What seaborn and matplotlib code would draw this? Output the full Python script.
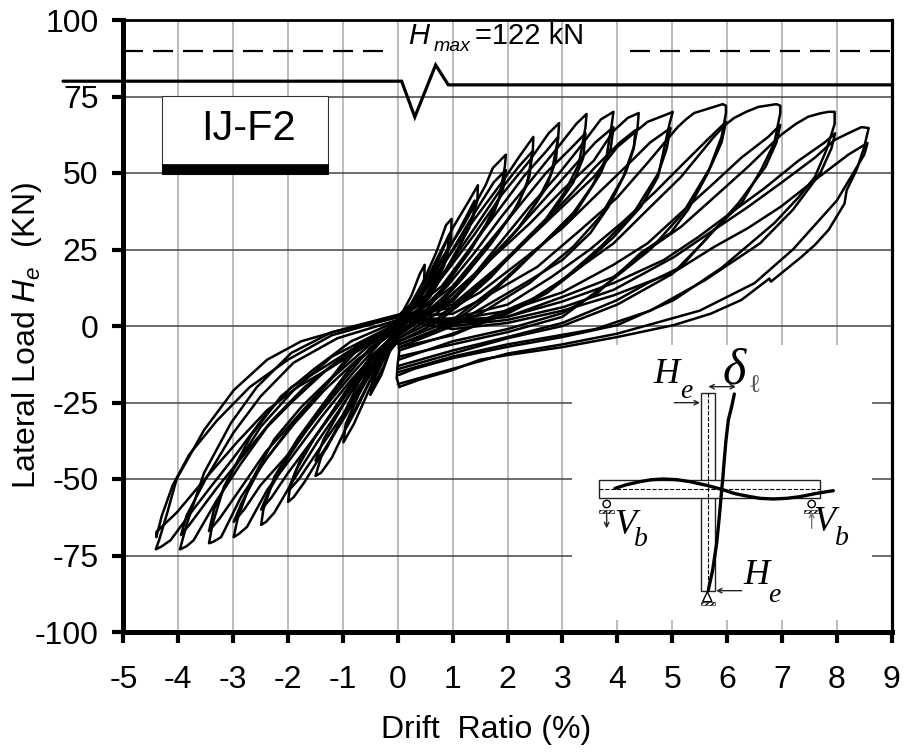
import pandas as pd
import matplotlib
matplotlib.use("Agg")
import matplotlib.pyplot as plt
from matplotlib.patches import Rectangle, Circle, Polygon
import seaborn as sns

# Tick labels
x_ticks = [-5, -4, -3, -2, -1, 0, 1, 2, 3, 4, 5, 6, 7, 8, 9]
y_ticks = [-100, -75, -50, -25, 0, 25, 50, 75, 100]

# Positive side, first cycles (reload branch, peak, unload branch)
p85_x = [0, 1.0, 2.0, 3.02, 3.93, 5.03, 5.76, 6.38, 6.98, 7.6, 7.96, 8.21, 8.45, 8.58, 8.5, 8.36, 8.18, 8.14, 7.85, 7.6, 7.35, 6.8, 6.77, 6.26, 5.7, 5.03, 4.0, 3.0, 2.0, 1.5, 1.0, 0.4, 0.03]
p85_y = [3, 0, 2, 6.2, 11.8, 22.5, 31.4, 38.9, 46.7, 55, 60.8, 63, 65, 64.7, 58.5, 51, 44.4, 40, 31.4, 26.5, 22.5, 14.5, 15.5, 8.5, 4, 0.3, -3.6, -6.9, -9.5, -11, -14.4, -17.5, -19.9]
p80_x = [0, 1.0, 2.0, 3.0, 3.93, 4.55, 5.16, 5.76, 6.38, 6.98, 7.25, 7.48, 7.7, 7.85, 7.96, 7.96, 7.81, 7.6, 7.3, 6.86, 5.9, 5.03, 4.0, 3.0, 2.0, 1.0, 0.3, 0.02]
p80_y = [3, 2, 3, 9.5, 16, 24.8, 32.4, 42, 52, 62.4, 66, 68.4, 69.5, 70, 70, 66, 57.5, 48.7, 42, 33.6, 19, 8.5, 0.3, -3.6, -6.8, -10.5, -14, -16]
p70_x = [0, 1.0, 1.5, 2.54, 3.33, 3.93, 4.55, 5.16, 5.76, 5.95, 6.13, 6.35, 6.57, 6.9, 6.97, 6.97, 6.86, 6.62, 6.26, 5.76, 5.16, 4.55, 4.0, 3.0, 2.0, 1.0, 0.02]
p70_y = [3, 1, 1.5, 9.5, 19.3, 27, 38, 48.7, 61.8, 65.5, 68, 70, 71.6, 72.5, 72, 69.6, 59.8, 51, 40, 31.4, 19.3, 14, 8.5, 1, -3.6, -8, -13]
p60_x = [0, 1.0, 1.5, 2.54, 3.33, 4.0, 4.55, 5.1, 5.25, 5.4, 5.76, 5.92, 5.98, 5.98, 5.9, 5.65, 5.29, 4.97, 4.43, 3.64, 3.0, 2.0, 1.0, 0.02]
p60_y = [3, 4, 8.5, 19.3, 31.4, 42, 53.3, 65, 67.5, 69.6, 71.6, 72.5, 72, 69.6, 61.8, 50, 38, 30.4, 23.9, 10.8, 4.2, -1, -5, -11]
p50_x = [0, 1.0, 1.5, 2.41, 3.0, 3.57, 4.0, 4.3, 4.55, 4.95, 5.01, 4.95, 4.74, 4.43, 3.93, 3.33, 2.72, 2.0, 1.0, 0.02]
p50_y = [3, 6, 13, 29, 39, 48.7, 58.5, 63, 66.7, 69.5, 70, 66, 48.7, 39, 29, 19.3, 10.8, 4, -2.5, -8]
p44_x = [0, 0.5, 1.0, 1.5, 2.41, 3.0, 3.57, 3.93, 4.19, 4.39, 4.37, 4.3, 4.11, 3.84, 3.51, 3.0, 2.41, 1.5, 1.0, 0.02]
p44_y = [3, 4, 8, 18.6, 33.6, 44.4, 54, 63.7, 68, 69.6, 65, 58.5, 48.7, 39, 30.4, 21.6, 15, 5.5, 0, -7]
p39_x = [0, 0.4, 0.9, 1.4, 1.9, 2.4, 2.9, 3.3, 3.7, 3.93, 3.9, 3.8, 3.55, 3.2, 2.7, 2.2, 1.6, 1.0, 0.02]
p39_y = [3, 4, 9, 17, 28, 39, 49, 58, 67.5, 70, 66, 55, 46, 37, 28, 19, 9, 1, -6]
p34_x = [0, 0.4, 0.9, 1.4, 1.9, 2.4, 2.9, 3.25, 3.44, 3.42, 3.3, 3.05, 2.7, 2.2, 1.7, 1.2, 0.7, 0.02]
p34_y = [3, 5, 13, 24, 36, 47, 58, 66, 69.3, 65, 53, 44, 35, 26, 16, 8, 1, -5]
p29_x = [0, 0.4, 0.9, 1.4, 1.9, 2.4, 2.75, 2.94, 2.92, 2.8, 2.55, 2.2, 1.7, 1.2, 0.7, 0.02]
p29_y = [3, 7, 18, 30, 43, 54, 63, 66.3, 61, 50, 41, 32, 22, 12, 4, -4]
p25_x = [0, 0.4, 0.9, 1.4, 1.9, 2.2, 2.47, 2.46, 2.35, 2.1, 1.7, 1.2, 0.7, 0.02]
p25_y = [3, 9, 22, 35, 47, 55, 61.8, 57, 46, 37, 27, 16, 6, -3]
p20_x = [0, 0.4, 0.8, 1.2, 1.6, 1.73, 1.97, 1.95, 1.85, 1.6, 1.2, 0.8, 0.4, 0.02]
p20_y = [3, 10, 22, 33, 46, 51.6, 56, 52, 42, 33, 22, 11, 3, -2]
p15_x = [0, 0.3, 0.6, 1.0, 1.3, 1.46, 1.45, 1.3, 1.0, 0.6, 0.3, 0.02]
p15_y = [3, 8, 18, 32, 41, 46, 41, 32, 22, 10, 3, -1]
p10_x = [0, 0.2, 0.45, 0.7, 0.88, 0.98, 0.97, 0.85, 0.6, 0.3, 0.02]
p10_y = [3, 6, 14, 24, 33, 35, 28, 20, 10, 3, 0]
p05_x = [0, 0.1, 0.25, 0.4, 0.49, 0.48, 0.35, 0.2, 0.02]
p05_y = [3, 5, 10, 17, 20, 15, 9, 4, 1]

# Positive side, second cycles
s85_x = [0, 1.0, 2.0, 3.0, 3.93, 5.03, 5.76, 6.38, 6.98, 7.6, 8.21, 8.56, 8.5, 8.3, 8.0, 7.2, 6.5, 5.5, 4.0, 3.0, 2.0, 1.0, 0.0]
s85_y = [2, -1, 1, 5, 10, 17.6, 25.8, 32, 39, 47.7, 56, 59.8, 56, 50, 41, 25, 14, 5, -2.5, -6, -9, -14, -19]
s80_x = [0, 1.0, 2.0, 3.0, 3.93, 4.85, 5.47, 6.07, 6.68, 7.3, 7.78, 7.97, 7.9, 7.7, 7.2, 6.6, 5.6, 4.6, 3.6, 2.0, 1.0, 0.02]
s80_y = [2, 1, 3, 8, 14, 21.6, 29, 37, 45, 54, 60, 63, 58, 50, 38, 27, 15, 5, -1, -6, -10, -15]
s70_x = [0, 1.0, 2.0, 3.0, 3.93, 4.55, 5.16, 5.76, 6.26, 6.75, 6.97, 6.9, 6.7, 6.2, 5.6, 5.0, 4.0, 3.0, 2.0, 1.0, 0.02]
s70_y = [2, 2, 5, 11, 20, 27, 37, 46.7, 55, 61.8, 65.7, 60, 52, 40, 28, 17, 7, 0, -4, -9, -14]
s60_x = [0, 1.0, 2.0, 2.8, 3.5, 4.1, 4.7, 5.2, 5.65, 5.98, 5.9, 5.7, 5.2, 4.6, 3.9, 3.0, 2.0, 1.0, 0.02]
s60_y = [2, 2.5, 7, 16, 25, 34, 44, 53, 61, 66.7, 60, 52, 37, 25, 15, 3, -2, -6, -10]
s50_x = [0, 0.8, 1.5, 2.3, 3.0, 3.6, 4.15, 4.6, 4.97, 4.9, 4.75, 4.3, 3.7, 3.0, 2.2, 1.0, 0.02]
s50_y = [2, 4, 11, 22, 32, 42.5, 52, 60, 64.7, 58, 50, 37, 26, 15, 6, -3, -7]
s44_x = [0, 1.0, 1.8, 2.5, 3.1, 3.6, 4.05, 4.33, 4.3, 4.15, 3.7, 3.2, 2.4, 1.5, 0.8, 0.02]
s44_y = [2, 7, 19, 31, 42, 52, 60, 64, 58, 50, 36, 26, 14, 4, -1, -6]
s39_x = [0, 0.8, 1.4, 2.1, 2.7, 3.2, 3.6, 3.93, 3.88, 3.7, 3.2, 2.6, 1.8, 1.0, 0.02]
s39_y = [2, 7, 17, 30, 42, 52, 60, 65, 58, 50, 36, 26, 13, 2, -5]
s34_x = [0, 0.4, 1.0, 1.6, 2.2, 2.7, 3.15, 3.42, 3.38, 3.2, 2.7, 2.1, 1.4, 0.7, 0.02]
s34_y = [2, 5, 13, 26, 39, 50, 58, 63, 55, 47, 34, 24, 12, 2, -4]
s29_x = [0, 0.8, 1.3, 1.8, 2.3, 2.7, 2.92, 2.88, 2.7, 2.2, 1.6, 1.0, 0.02]
s29_y = [2, 13, 25, 37, 49, 57, 61.8, 54, 45, 32, 20, 9, -3]
s25_x = [0, 0.4, 0.9, 1.4, 1.85, 2.2, 2.45, 2.4, 2.2, 1.7, 1.1, 0.5, 0.02]
s25_y = [2, 7, 19, 32, 44, 52, 57, 49, 40, 27, 14, 4, -2]
s20_x = [0, 0.5, 1.0, 1.4, 1.75, 1.97, 1.92, 1.75, 1.3, 0.8, 0.3, 0.02]
s20_y = [2, 10, 25, 37, 47, 51, 45, 37, 24, 12, 3, -1]
s15_x = [0, 0.35, 0.7, 1.05, 1.4, 1.38, 1.15, 0.8, 0.4, 0.02]
s15_y = [2, 8, 18, 29, 41, 36, 27, 16, 6, 0]
s10_x = [0, 0.25, 0.5, 0.75, 0.94, 0.9, 0.7, 0.4, 0.02]
s10_y = [2, 6, 13, 22, 30, 24, 15, 6, 0]

# Negative side, first cycles (upper branch, peak, lower branch)
n44_x = [0.07, -0.85, -1.76, -2.38, -2.99, -3.53, -4.03, -4.2, -4.35, -4.41, -4.3, -4.14, -3.77, -3.41, -2.99, -2.44, -1.94, -1.34, -0.85, -0.11, 0.05]
n44_y = [4, -0.3, -5, -11, -21, -34, -50, -61, -70, -73, -72, -70, -61, -52.6, -43, -29.7, -20, -13.4, -7.8, -1.3, 0]
n40_x = [0.05, -1.2, -1.94, -2.57, -3.04, -3.53, -3.85, -3.97, -3.85, -3.72, -3.3, -2.86, -2.38, -1.94, -1.34, -0.74, 0.0]
n40_y = [3, -2, -8.8, -20, -31.7, -48, -65, -73, -72, -70, -57, -45, -33, -25, -15, -7.8, 0]
n34_x = [0.05, -0.85, -1.52, -2.13, -2.68, -3.17, -3.38, -3.44, -3.36, -3.22, -2.86, -2.38, -1.89, -1.34, -0.74, 0.0]
n34_y = [2, -5, -14, -23, -36, -52.6, -65, -71, -70.5, -69, -56, -43, -32, -21, -11, -1]
n30_x = [0.03, -0.74, -1.2, -1.76, -2.25, -2.68, -2.92, -2.99, -2.9, -2.75, -2.38, -1.94, -1.39, -0.85, -0.3, 0.0]
n30_y = [1, -6, -16.7, -26.5, -37, -51, -63, -69, -68, -65.7, -53.6, -43, -29.7, -17.6, -6.9, -2]
n25_x = [0.02, -0.85, -1.34, -1.83, -2.25, -2.45, -2.49, -2.4, -2.25, -1.89, -1.47, -1.03, -0.55, 0.0]
n25_y = [0, -13.4, -25, -37, -49.3, -60, -65, -64, -61, -50, -38, -26.5, -13.4, -3]
n20_x = [0.0, -0.85, -1.34, -1.76, -1.96, -2.0, -1.9, -1.7, -1.34, -0.92, -0.42, 0.0]
n20_y = [-1, -18.6, -32, -43, -52, -57.5, -56, -51, -40.5, -28.4, -13.4, -4]
n15_x = [0.0, -0.7, -1.1, -1.4, -1.5, -1.4, -1.2, -0.8, -0.4, 0.0]
n15_y = [-1, -18, -33, -43, -49, -48, -43, -28, -14, -5]
n10_x = [0.0, -0.3, -0.7, -0.95, -0.99, -0.8, -0.5, -0.2, 0.0]
n10_y = [-2, -8, -22, -32, -38, -32, -20, -9, -5]
n05_x = [0.0, -0.2, -0.45, -0.5, -0.3, -0.1, 0.0]
n05_y = [-1, -7, -17, -22.5, -16, -6, -3]

# Negative side, second cycles
m44_x = [0.0, -0.5, -1.2, -1.83, -2.38, -2.93, -3.48, -4.03, -4.4, -4.4, -4.3, -4.1, -3.8, -3.3, -2.7, -2.0, -1.2, 0.0]
m44_y = [0, -5, -13.4, -20, -27.5, -38, -49.3, -61, -67.3, -69, -62, -52, -42, -31, -20, -11, -3, 3]
m40_x = [0.0, -1.1, -1.9, -2.5, -3.0, -3.5, -3.85, -3.95, -3.8, -3.3, -2.8, -2.3, -1.7, -1.0, -0.4, 0.0]
m40_y = [2, -4, -12, -23, -35, -50, -62, -68.3, -65, -53, -42, -31, -20, -10, -3, 0]
m34_x = [0.0, -1.2, -1.9, -2.5, -3.0, -3.35, -3.44, -3.25, -2.9, -2.4, -1.8, -1.2, -0.5, 0.0]
m34_y = [1, -10, -21, -33, -47, -60, -67, -63, -54, -41, -29, -17, -6, -1]
m30_x = [0.0, -0.8, -1.4, -2.0, -2.5, -2.85, -2.99, -2.8, -2.5, -2.0, -1.4, -0.8, -0.3, 0.0]
m30_y = [0, -9, -21, -34, -46, -58, -64, -60, -52, -42, -28, -15, -5, -1]
m25_x = [0.0, -0.5, -1.0, -1.55, -2.0, -2.35, -2.49, -2.3, -2.0, -1.5, -1.0, -0.5, 0.0]
m25_y = [-1, -7, -18, -31, -43, -54, -60, -56, -48, -36, -24, -11, -2]
m20_x = [0.0, -0.5, -1.0, -1.5, -1.85, -2.0, -1.8, -1.5, -1.0, -0.5, 0.0]
m20_y = [-2, -10, -23, -36, -47, -54, -50, -42, -29, -14, -3]
m15_x = [0.0, -0.5, -1.0, -1.35, -1.5, -1.3, -1.0, -0.6, -0.2, 0.0]
m15_y = [-2, -11, -26, -37, -44, -40, -30, -18, -7, -3]
m10_x = [0.0, -0.35, -0.7, -0.93, -0.75, -0.45, -0.15, 0.0]
m10_y = [-1, -9, -20, -33, -27, -16, -6, -3]
m05_x = [0.0, -0.15, -0.4, -0.46, -0.25, -0.05]
m05_y = [0, -5, -14, -20, -13, -3]

# Left edge of the unloading ends at zero drift
trough_x = [0.03, -0.02, 0.0, 0.03, 0.0, 0.02]
trough_y = [-20, -17, -12, -8, -4, 0]

loops = [
    (p85_x, p85_y), (p80_x, p80_y), (p70_x, p70_y), (p60_x, p60_y), (p50_x, p50_y),
    (p44_x, p44_y), (p39_x, p39_y), (p34_x, p34_y), (p29_x, p29_y), (p25_x, p25_y),
    (p20_x, p20_y), (p15_x, p15_y), (p10_x, p10_y), (p05_x, p05_y),
    (s85_x, s85_y), (s80_x, s80_y), (s70_x, s70_y), (s60_x, s60_y), (s50_x, s50_y),
    (s44_x, s44_y), (s39_x, s39_y), (s34_x, s34_y), (s29_x, s29_y), (s25_x, s25_y),
    (s20_x, s20_y), (s15_x, s15_y), (s10_x, s10_y),
    (n44_x, n44_y), (n40_x, n40_y), (n34_x, n34_y), (n30_x, n30_y), (n25_x, n25_y),
    (n20_x, n20_y), (n15_x, n15_y), (n10_x, n10_y), (n05_x, n05_y),
    (m44_x, m44_y), (m40_x, m40_y), (m34_x, m34_y), (m30_x, m30_y), (m25_x, m25_y),
    (m20_x, m20_y), (m15_x, m15_y), (m10_x, m10_y), (m05_x, m05_y), (trough_x, trough_y),
]

# Reference lines
hmax_load = 90
break_x = [-6.1, 0.07, 0.31, 0.69, 0.92, 9.0]
break_y = [80, 80, 68.3, 85.3, 78.8, 78.8]

# Inset sketch, coordinates of the small drawing
col_curve_x = [463, 455, 445, 438, 432, 428, 425, 418, 410, 398, 385]
col_curve_y = [72, 110, 150, 210, 280, 330, 360, 440, 520, 600, 660]
beam_curve_x = [105, 140, 180, 215, 250, 290, 330, 380, 425, 465, 500, 540, 580, 620, 660, 710, 760]
beam_curve_y = [355, 344, 335, 329, 327, 329, 335, 346, 358, 371, 378, 385, 387, 385, 380, 370, 362]

frames = []
for i, (dx, dy) in enumerate(loops):
    frames.append(pd.DataFrame({"drift": dx, "load": dy, "loop": i}))
df = pd.concat(frames, ignore_index=True)

sns.set_style("white")
plt.rcParams["font.family"] = ["Liberation Sans", "DejaVu Sans"]
plt.rcParams["mathtext.fontset"] = "custom"
plt.rcParams["mathtext.rm"] = "Liberation Sans"
plt.rcParams["mathtext.it"] = "Liberation Sans:italic"
plt.rcParams["axes.unicode_minus"] = False
plt.rcParams["text.color"] = "black"
plt.rcParams["axes.labelcolor"] = "black"
plt.rcParams["xtick.labelcolor"] = "black"
plt.rcParams["ytick.labelcolor"] = "black"

fig = plt.figure(figsize=(9.09, 7.56), dpi=100)
ax = fig.add_axes([123.4 / 909, 124 / 756, 768.3 / 909, 612 / 756])

ax.set_xlim(-5, 9)
ax.set_ylim(-100, 100)
ax.set_xticks(x_ticks)
ax.set_yticks(y_ticks)
ax.grid(axis="x", color="#aaaaaa", lw=1.1, zorder=0)
ax.grid(axis="y", color="#444444", lw=1.1, zorder=0)
ax.set_axisbelow(True)

# White area behind the inset hides the grid
ax.add_patch(Rectangle((3.17, -96), 5.47, 89.8, fc="white", ec="none", zorder=1))

sns.lineplot(data=df, x="drift", y="load", units="loop", estimator=None, sort=False,
             color="black", lw=1.8, legend=False, ax=ax, zorder=3)

ax.plot([-5, -0.15], [hmax_load, hmax_load], color="black", lw=1.6, dashes=(9, 4.5), zorder=3)
ax.plot([4.23, 9], [hmax_load, hmax_load], color="black", lw=1.6, dashes=(9, 4.5), zorder=3)
ax.plot(break_x, break_y, color="black", lw=2.3, clip_on=False, zorder=4, solid_joinstyle="miter")

ax.text(0.18, 94.8, "H", style="italic", fontsize=21, ha="left", va="center", zorder=5)
ax.text(0.66, 91.5, "max", style="italic", fontsize=14, ha="left", va="center", zorder=5)
ax.text(1.41, 94.8, "=122 kN", fontsize=21, ha="left", va="center", zorder=5)

# Specimen label
ax.add_patch(Rectangle((-4.29, 49.7), 3.025, 25.6, fc="white", ec="#333333", lw=0.8, zorder=3))
ax.add_patch(Rectangle((-4.29, 49.7), 3.025, 3.2, fc="black", ec="black", lw=0.5, zorder=4))
ax.text(-2.72, 64.4, "IJ-F2", fontsize=30, ha="center", va="center", zorder=5)

for name, lw in [("left", 3.6), ("bottom", 3.6), ("right", 2.3), ("top", 2.0)]:
    ax.spines[name].set_linewidth(lw)
    ax.spines[name].set_color("black")
    ax.spines[name].set_visible(True)
    ax.spines[name].set_zorder(6)
ax.tick_params(axis="x", direction="out", length=8, width=3, labelsize=23,
               color="black", bottom=True, pad=16)
ax.tick_params(axis="y", direction="out", length=8, width=3, labelsize=23,
               color="black", left=True, pad=10)
ax.set_xlabel("Drift  Ratio (%)", fontsize=23)
ax.xaxis.set_label_coords(0.472, -0.136)
ax.set_ylabel("Lateral Load $H_e$  (KN)", fontsize=23)
ax.yaxis.set_label_coords(-0.103, 0.484)

# Inset sketch
ins = fig.add_axes([580 / 909, 136 / 756, 280 / 909, 270 / 756], facecolor="none")
ins.set_xlim(0, 840)
ins.set_ylim(750, -60)
ins.axis("off")
ins.add_patch(Rectangle((362, 70), 44, 592, fc="white", ec="#222222", lw=1.0))
ins.add_patch(Rectangle((58, 331), 662, 53, fc="white", ec="#222222", lw=1.0))
ins.plot([385, 385], [70, 660], color="black", lw=0.8, ls="--")
ins.plot([58, 720], [358, 358], color="black", lw=0.8, ls="--")
ins.plot(col_curve_x, col_curve_y, color="black", lw=2.4)
ins.plot(beam_curve_x, beam_curve_y, color="black", lw=2.4)
arrow = dict(arrowstyle="->", color="#222222", lw=1.0, mutation_scale=8, shrinkA=0, shrinkB=0)
ins.annotate("", xy=(360, 98), xytext=(283, 98), arrowprops=arrow)
ins.annotate("", xy=(408, 662), xytext=(485, 662), arrowprops=arrow)
ins.annotate("", xy=(385, 50), xytext=(468, 50), arrowprops=dict(arrow, arrowstyle="<->"))
ins.annotate("", xy=(80, 475), xytext=(80, 425), arrowprops=arrow)
ins.annotate("", xy=(695, 425), xytext=(695, 475), arrowprops=dict(arrow, color="#777777"))
for cx in [80, 695]:
    ins.add_patch(Circle((cx, 402), 11, fc="white", ec="black", lw=1.0))
    ins.add_patch(Rectangle((cx - 22, 420), 44, 9, fc="white", ec="black", lw=0.4, hatch="//////"))
ins.add_patch(Polygon([(382, 665), (368, 695), (396, 695)], fc="white", ec="black", lw=1.0))
ins.add_patch(Rectangle((362, 697), 44, 8, fc="white", ec="black", lw=0.4, hatch="//////"))

serif = "Liberation Serif"
ins.text(258, 12, "H", family=serif, style="italic", fontsize=26, ha="center", va="center")
ins.text(320, 65, "e", family=serif, style="italic", fontsize=20, ha="center", va="center")
ins.text(462, 5, "\u03b4", family=serif, style="italic", fontsize=36, ha="center", va="center")
ins.text(522, 52, "\u2113", family=[serif, "DejaVu Sans"], fontsize=18, color="#555555", ha="center", va="center")
ins.text(135, 465, "V", family=serif, style="italic", fontsize=26, ha="center", va="center")
ins.text(182, 510, "b", family=serif, style="italic", fontsize=20, ha="center", va="center")
ins.text(732, 458, "V", family=serif, style="italic", fontsize=26, ha="center", va="center")
ins.text(786, 505, "b", family=serif, style="italic", fontsize=20, ha="center", va="center")
ins.text(528, 618, "H", family=serif, style="italic", fontsize=26, ha="center", va="center")
ins.text(582, 675, "e", family=serif, style="italic", fontsize=20, ha="center", va="center")

fig.savefig("out.png", dpi=100)
